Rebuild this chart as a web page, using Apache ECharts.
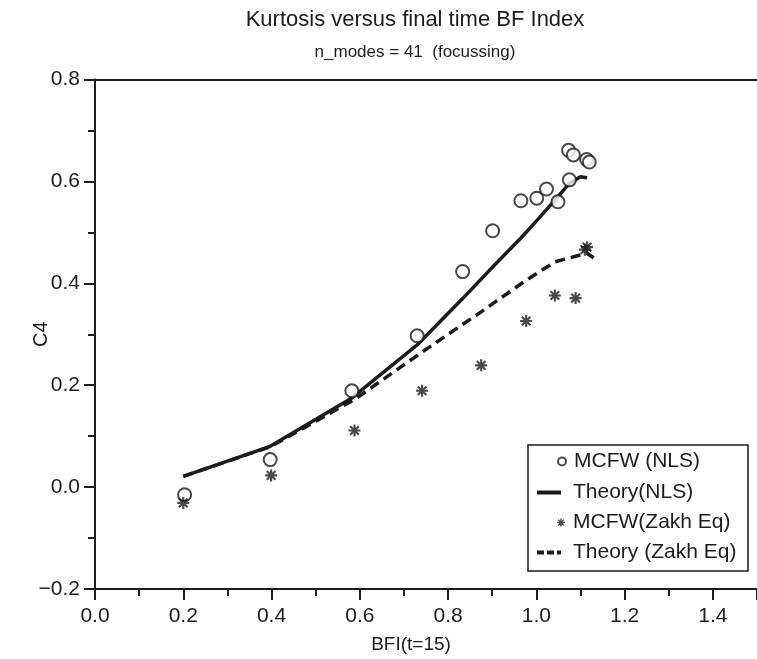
<!DOCTYPE html>
<html>
<head>
<meta charset="utf-8">
<script src="https://cdn.jsdelivr.net/npm/echarts@6/dist/echarts.min.js"></script>
<style>
  html, body { margin: 0; padding: 0; background: #fff; }
  #chart { width: 757px; height: 659px; }
</style>
</head>
<body>
<div id="chart"></div>
<script>
// ---- data ----
const titleText = 'Kurtosis versus final time BF Index';
const subtitleText = 'n_modes = 41  (focussing)';
const xAxisName = 'BFI(t=15)';
const yAxisName = 'C4';
const seriesNames = ['MCFW (NLS)', 'Theory(NLS)', 'MCFW(Zakh Eq)', 'Theory (Zakh Eq)'];

const mcfwNlsX = [0.203, 0.397, 0.582, 0.730, 0.833, 0.901, 0.965, 1.001, 1.023, 1.049, 1.075, 1.073, 1.084, 1.114, 1.120];
const mcfwNlsY = [-0.015, 0.054, 0.189, 0.297, 0.423, 0.503, 0.562, 0.567, 0.585, 0.560, 0.603, 0.661, 0.652, 0.643, 0.638];

const theoryNlsX = [0.200, 0.397, 0.582, 0.730, 0.833, 0.901, 0.965, 1.001, 1.049, 1.075, 1.100, 1.115];
const theoryNlsY = [0.021, 0.080, 0.175, 0.279, 0.370, 0.432, 0.489, 0.523, 0.570, 0.596, 0.609, 0.607];

const mcfwZakhX = [0.200, 0.399, 0.588, 0.741, 0.875, 0.977, 1.042, 1.089, 1.110, 1.115];
const mcfwZakhY = [-0.031, 0.023, 0.111, 0.189, 0.239, 0.326, 0.376, 0.371, 0.466, 0.471];

const theoryZakhX = [0.200, 0.399, 0.588, 0.741, 0.875, 0.977, 1.042, 1.089, 1.114, 1.130];
const theoryZakhY = [0.021, 0.080, 0.172, 0.265, 0.344, 0.406, 0.442, 0.453, 0.459, 0.450];

const xTicks = { min: 0, max: 1.5, interval: 0.2 };
const yTicks = { min: -0.2, max: 0.8, interval: 0.2 };

const zip = (xs, ys) => xs.map((x, i) => [x, ys[i]]);

const INK = '#1c1c1c';
const FONT = '"Liberation Sans", Arial, Helvetica, sans-serif';
const starPath = 'path://M0 8.25 L20 8.25 L20 11.75 L0 11.75 Z M8.25 0 L11.75 0 L11.75 20 L8.25 20 Z M4.05 1.57 L18.43 15.95 L15.95 18.43 L1.57 4.05 Z M15.95 1.57 L18.43 4.05 L4.05 18.43 L1.57 15.95 Z M6.5 6.5 L13.5 6.5 L13.5 13.5 L6.5 13.5 Z';
const solidIcon = 'path://M0 0 L24 0 L24 4 L0 4 Z';
const dashIcon = 'path://M0 0 L7 0 L7 4 L0 4 Z M10 0 L17 0 L17 4 L10 4 Z M20 0 L24 0 L24 4 L20 4 Z';

const chart = echarts.init(document.getElementById('chart'), null, { renderer: 'canvas' });

function legendItem(entry, left, top, w, h, textPad) {
  return {
    data: [entry],
    orient: 'vertical',
    left: left, top: top,
    padding: 0,
    z: 10,
    itemWidth: w, itemHeight: h,
    selectedMode: false,
    textStyle: { fontFamily: FONT, fontSize: 21, color: INK, padding: [0, 0, 0, textPad] }
  };
}

chart.setOption({
  animation: false,
  backgroundColor: '#fff',
  grid: { left: 95, top: 79.5, width: 669.6, bottom: 69, containLabel: false },
  xAxis: [{
    type: 'value',
    min: xTicks.min, max: xTicks.max, interval: xTicks.interval,
    name: xAxisName, nameLocation: 'middle', nameGap: 46, nameMoveOverlap: false,
    nameTextStyle: { fontFamily: FONT, fontSize: 19, color: INK, padding: [0, 30, 0, 0] },
    axisLine: { show: true, onZero: false, lineStyle: { color: INK, width: 2 } },
    axisTick: { show: true, length: 11, lineStyle: { color: INK, width: 2 } },
    minorTick: { show: true, splitNumber: 2, length: 7, lineStyle: { color: INK, width: 2 } },
    axisLabel: { fontFamily: FONT, fontSize: 21, color: INK, margin: 17, showMaxLabel: false,
      formatter: v => v.toFixed(1) },
    splitLine: { show: false }
  }, {
    type: 'value', position: 'top',
    min: xTicks.min, max: xTicks.max,
    axisLine: { show: true, onZero: false, lineStyle: { color: INK, width: 2 } },
    axisTick: { show: false }, axisLabel: { show: false }, splitLine: { show: false }
  }],
  yAxis: {
    type: 'value',
    min: yTicks.min, max: yTicks.max, interval: yTicks.interval,
    name: yAxisName, nameLocation: 'middle', nameGap: 44, nameRotate: 90, nameMoveOverlap: false,
    nameTextStyle: { fontFamily: FONT, fontSize: 20, color: INK },
    axisLine: { show: true, onZero: false, lineStyle: { color: INK, width: 2 } },
    axisTick: { show: true, length: 11, lineStyle: { color: INK, width: 2 } },
    minorTick: { show: true, splitNumber: 2, length: 7, lineStyle: { color: INK, width: 2 } },
    axisLabel: { fontFamily: FONT, fontSize: 21, color: INK, margin: 15,
      formatter: v => (v < 0 ? '\u2212' + Math.abs(v).toFixed(1) : v.toFixed(1)) },
    splitLine: { show: false }
  },
  legend: [
    legendItem({ name: seriesNames[0] }, 557, 451, 8, 8, 3),
    legendItem({ name: seriesNames[1], icon: solidIcon }, 537, 482, 24, 4, 7),
    legendItem({ name: seriesNames[2] }, 557, 512, 8, 8, 3),
    legendItem({ name: seriesNames[3], icon: dashIcon }, 537, 542, 24, 4, 7)
  ],
  graphic: [
    { type: 'text', x: 415, y: 20, style: { text: titleText, font: '22px ' + FONT, fill: INK, textAlign: 'center', textVerticalAlign: 'middle' } },
    { type: 'text', x: 415, y: 52, style: { text: subtitleText, font: '17px ' + FONT, fill: INK, textAlign: 'center', textVerticalAlign: 'middle' } },
    { type: 'rect', shape: { x: 528, y: 445, width: 220, height: 126 },
      style: { fill: '#fff', stroke: INK, lineWidth: 1.5 }, z: 1 }
  ],
  series: [
    {
      name: seriesNames[1], type: 'line', data: zip(theoryNlsX, theoryNlsY),
      symbol: 'none', smooth: false, z: 2,
      lineStyle: { color: INK, width: 3.5, type: 'solid' }, itemStyle: { color: INK }
    },
    {
      name: seriesNames[3], type: 'line', data: zip(theoryZakhX, theoryZakhY),
      symbol: 'none', smooth: false, z: 2,
      lineStyle: { color: INK, width: 3.5, type: [10, 6] }, itemStyle: { color: INK }
    },
    {
      name: seriesNames[0], type: 'scatter', data: zip(mcfwNlsX, mcfwNlsY),
      symbol: 'emptyCircle', symbolSize: 13, z: 3,
      itemStyle: { color: INK, borderColor: INK, borderWidth: 1.8 }
    },
    {
      name: seriesNames[2], type: 'scatter', data: zip(mcfwZakhX, mcfwZakhY),
      symbol: starPath, symbolSize: 12, z: 3,
      itemStyle: { color: INK }
    }
  ]
});
</script>
</body>
</html>
